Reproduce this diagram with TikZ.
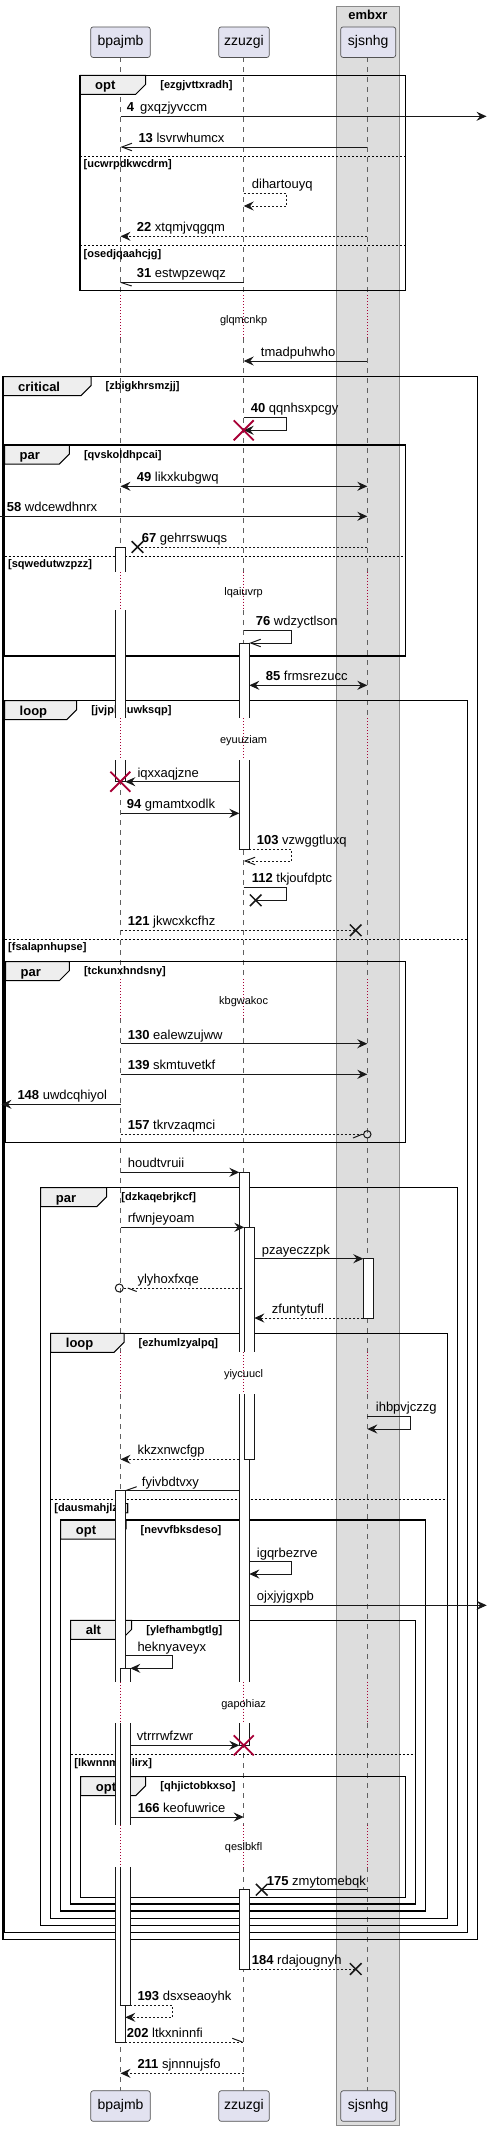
\documentclass[tikz,border=0pt]{standalone}
\usepackage{fontspec}
\setmainfont{Liberation Sans}
\usetikzlibrary{arrows.meta}
\definecolor{ln}{HTML}{181818}
\definecolor{pbox}{HTML}{E2E2F0}
\definecolor{grpbox}{HTML}{DDDDDD}
\definecolor{tabc}{HTML}{EEEEEE}
\definecolor{dlr}{HTML}{A80036}
\definecolor{lifec}{HTML}{606060}
\definecolor{boxedge}{HTML}{8A8A8A}
\newcommand\Grp[8]{%
  \filldraw[tabs] (#2,#4) -- (#6,#4) -- (#6,#4+9) -- (#6-10,#4+19) -- (#2,#4+19) -- cycle;
  \draw[frm] (#2,#4) rectangle (#3,#5);
  \node[kw] (#1k) at (#2+15,#4+14.3) {#7};
  \node[cnd] (#1c) at (#6+14.5,#4+13) {#8};}
\newcommand\GrpSep[5]{%
  \draw[sepl] (#2,#4) -- (#3,#4);
  \node[cnd] (#1) at (#2+3.5,#4+11.7) {#5};}
\newcommand\ActSeg[5]{%
  \fill[white] (#1,#2) rectangle (#1+10,#3);
  \draw[actl] (#1,#2) -- (#1,#3) (#1+10,#2) -- (#1+10,#3);
  \ifnum#4=1 \draw[actl] (#1-0.5,#2) -- (#1+10.5,#2);\fi
  \ifnum#5=1 \draw[actl] (#1-0.5,#3) -- (#1+10.5,#3);\fi}
\newcommand\HMsg[5]{%
  \coordinate (#1a) at (#2,#4); \coordinate (#1b) at (#3,#4);
  \draw[msg,#5] (#1a) -- (#1b);}
\newcommand\SelfMsg[7]{%
  \coordinate (#1a) at (#2,#4); \coordinate (#1b) at (#3,#4);
  \coordinate (#1c) at (#3,#5); \coordinate (#1d) at (#6,#5);
  \draw[msg,#7] (#1a) -- (#1b) -- (#1c) -- (#1d);}
\newcommand\MLab[4]{\node[lbl] (#1) at (#2,#3-4.7) {#4};}
\newcommand\LostX[2]{\draw[bx] (#1-5.8,#2-5.8) -- (#1+5.8,#2+5.8) (#1-5.8,#2+5.8) -- (#1+5.8,#2-5.8);}
\newcommand\KillX[2]{\draw[rx] (#1-10,#2-10) -- (#1+10,#2+10) (#1-10,#2+10) -- (#1+10,#2-10);}
\begin{document}
\begin{tikzpicture}[x=1pt,y=-1pt,
  msg/.style={draw=ln, line width=1pt},
  dsh/.style={dash pattern=on 2pt off 2pt},
  tipf/.style={arrows={-Stealth[length=10pt,width=9pt,inset=3.5pt]}},
  tipo/.style={arrows={-Straight Barb[length=10pt,width=7.5pt]}},
  tipb/.style={arrows={Stealth[length=10pt,width=9pt,inset=3.5pt]-Stealth[length=10pt,width=9pt,inset=3.5pt]}},
  lbl/.style={font=\fontsize{13}{15}\selectfont, inner sep=0pt, anchor=base west, text=black},
  dly/.style={font=\fontsize{11}{13}\selectfont, inner sep=0pt, anchor=base},
  kw/.style={font=\fontsize{13}{15}\selectfont\bfseries, inner sep=0pt, anchor=base west},
  cnd/.style={font=\fontsize{11}{13}\selectfont\bfseries, inner sep=0pt, anchor=base west},
  frm/.style={draw=black, line width=1.5pt},
  sepl/.style={draw=black, line width=0.8pt, dash pattern=on 2pt off 2pt},
  tabs/.style={fill=tabc, draw=black, line width=1pt},
  life/.style={draw=lifec, line width=0.8pt, dash pattern=on 5pt off 5pt},
  dlyl/.style={draw=dlr, line width=0.9pt, dash pattern=on 1pt off 2pt},
  actl/.style={draw=ln, line width=1pt},
  rx/.style={draw=dlr, line width=1.8pt},
  bx/.style={draw=ln, line width=1.5pt},
  part/.style={draw=ln!75, fill=pbox, rounded corners=2.5pt, line width=0.7pt, inner sep=0pt,
    font=\fontsize{14}{16}\selectfont, text height=10.2pt, text depth=2.9pt, minimum height=30.6pt},
]
\useasboundingbox (0,0) rectangle (487,2131);
% group box
\draw[fill=grpbox, draw=boxedge, line width=1pt] (336.3,6) rectangle (399.3,2125.7);
\node[kw, anchor=base] (embxr) at (367.8,19) {embxr};
% lifelines
\foreach \px in {120.5,243.7,367.3} {
  \foreach \ya/\yb in {57.3/295, 338.3/571.7, 610/718.3, 760/979, 1018.3/1352, 1394/1681.7, 1723.3/1825, 1867.3/2090.7}
    {\draw[life] (\px,\ya) -- (\px,\yb);}
  \foreach \ya/\yb in {295/338.3, 571.7/610, 718.3/760, 979/1018.3, 1352/1394, 1681.7/1723.3, 1825/1867.3}
    {\draw[dlyl] (\px,\ya) -- (\px,\yb);}
}
% participants
\node[part, minimum width=59.6pt] (pA) at (120.5,42.2) {bpajmb};
\node[part, minimum width=50.6pt] (pB) at (244,42.2) {zzuzgi};
\node[part, minimum width=55pt] (pC) at (368.2,42.2) {sjsnhg};
\node[part, minimum width=59.6pt] (qA) at (120.5,2106) {bpajmb};
\node[part, minimum width=50.6pt] (qB) at (244,2106) {zzuzgi};
\node[part, minimum width=55pt] (qC) at (368.2,2106) {sjsnhg};
% frames
\Grp{fA}{80}{405.7}{75.3}{290.7}{145.7}{opt}{[ezgjvttxradh]}
\GrpSep{sA1}{80}{405.7}{156}{[ucwrpdkwcdrm]}
\GrpSep{sA2}{80}{405.7}{245.3}{[osedjqaahcjg]}
\Grp{fB}{3}{477.7}{376.7}{1939.3}{91}{critical}{[zbigkhrsmzjj]}
\Grp{fC}{4.5}{405.7}{445}{656}{69.3}{par}{[qvskoldhpcai]}
\GrpSep{sC1}{4.5}{405.7}{556}{[sqwedutwzpzz]}
\Grp{fD}{4.5}{467.7}{700.7}{1932.3}{76.7}{loop}{[jvjphcuwksqp]}
\GrpSep{sD1}{4.5}{467.7}{939}{[fsalapnhupse]}
\Grp{fE}{5.5}{405.7}{961.7}{1142.3}{69.3}{par}{[tckunxhndsny]}
\Grp{fF}{40.7}{457.3}{1187.7}{1925.3}{106.7}{par}{[dzkaqebrjkcf]}
\Grp{fG}{50.7}{447.3}{1333.3}{1918.3}{124}{loop}{[ezhumlzyalpq]}
\GrpSep{sG1}{50.7}{447.3}{1499.7}{[dausmahjlztf]}
\Grp{fH}{60.7}{425.7}{1520}{1911}{126}{opt}{[nevvfbksdeso]}
\Grp{fI}{70.7}{415.7}{1620.3}{1904}{131.7}{alt}{[ylefhambgtlg]}
\GrpSep{sI1}{70.7}{415.7}{1754.3}{[lkwnnmcolirx]}
\Grp{fJ}{80.7}{405.7}{1776.7}{1897.3}{145.7}{opt}{[qhjictobkxso]}
% activations
\ActSeg{115.3}{547}{571.7}{1}{0}
\ActSeg{115.3}{610}{718.3}{0}{0}
\ActSeg{115.3}{760}{781.7}{0}{1}
\ActSeg{239.3}{643}{718.3}{1}{0}
\ActSeg{239.3}{760}{849.3}{0}{1}
\ActSeg{239.3}{1172.3}{1352}{1}{0}
\ActSeg{239.3}{1394}{1681.7}{0}{0}
\ActSeg{239.3}{1723.3}{1745.3}{0}{1}
\ActSeg{244.3}{1227.3}{1352}{1}{0}
\ActSeg{244.3}{1394}{1459.3}{0}{1}
\ActSeg{363.3}{1258.7}{1318}{1}{1}
\ActSeg{115.3}{1490.7}{1681.7}{1}{0}
\ActSeg{115.3}{1723.3}{1825}{0}{0}
\ActSeg{115.3}{1867.3}{2042}{0}{1}
\ActSeg{120.3}{1668.3}{1681.7}{1}{0}
\ActSeg{120.3}{1723.3}{1825}{0}{0}
\ActSeg{120.3}{1867.3}{2005}{0}{1}
\ActSeg{239.3}{1889.7}{1969}{1}{1}
% messages
\HMsg{m1}{120.5}{486.5}{116.3}{tipf}
\MLab{t1}{126.7}{116.3}{\textbf{4}\hspace{6pt}gxqzjyvccm}
\HMsg{m2}{367.3}{120.5}{147}{tipo}
\MLab{t2}{138.3}{147}{\textbf{13} lsvrwhumcx}
\SelfMsg{m3}{243.7}{286.3}{193.3}{206}{243.7}{dsh,tipf}
\MLab{t3}{251.7}{193.3}{dihartouyq}
\HMsg{m4}{367.3}{120.5}{236.3}{dsh,tipf}
\MLab{t4}{136.7}{236.3}{\textbf{22} xtqmjvqgqm}
\HMsg{m5}{243.7}{120.5}{282.3}{}
\coordinate (m5c) at (131.7,286); \draw[msg] (m5b) -- (m5c);
\MLab{t5}{136.7}{282.3}{\textbf{31} estwpzewqz}
\HMsg{m6}{367.3}{243.7}{361}{tipf}
\MLab{t6}{260.7}{361}{tmadpuhwho}
\SelfMsg{m7}{243.7}{286.3}{417.3}{430.3}{243.7}{tipf}
\KillX{243.7}{430.3}
\MLab{t7}{250.7}{417.3}{\textbf{40} qqnhsxpcgy}
\HMsg{m8}{120.5}{367.3}{486.3}{tipb}
\MLab{t8}{136.7}{486.3}{\textbf{49} likxkubgwq}
\HMsg{m9}{0}{367.3}{516.3}{tipf}
\MLab{t9}{6.7}{516.3}{\textbf{58} wdcewdhnrx}
\HMsg{m10}{367.3}{137.5}{547}{dsh}
\LostX{137.5}{547}
\MLab{t10}{141.7}{547}{\textbf{67} gehrrswuqs}
\SelfMsg{m11}{243.7}{291.7}{630.3}{643}{249.3}{tipo}
\MLab{t11}{255.7}{630.3}{\textbf{76} wdzyctlson}
\HMsg{m12}{249.3}{367.3}{685.3}{tipb}
\MLab{t12}{265.7}{685.3}{\textbf{85} frmsrezucc}
\HMsg{m13}{239.3}{125.3}{781.7}{tipf}
\KillX{120.3}{781.7}
\MLab{t13}{137.3}{781.7}{iqxxaqjzne}
\HMsg{m14}{120.5}{239.3}{813.3}{tipf}
\MLab{t14}{126.7}{813.3}{\textbf{94} gmamtxodlk}
\SelfMsg{m15}{249.3}{291.7}{849.3}{861}{243.7}{dsh,tipo}
\MLab{t15}{256.7}{849.3}{\textbf{103} vzwggtluxq}
\SelfMsg{m16}{243.7}{286.3}{887.3}{900.3}{255.7}{}
\LostX{255.7}{900.3}
\MLab{t16}{251.7}{887.3}{\textbf{112} tkjoufdptc}
\HMsg{m17}{120.5}{355.7}{930.3}{dsh}
\LostX{355.7}{930.3}
\MLab{t17}{127.7}{930.3}{\textbf{121} jkwcxkcfhz}
\HMsg{m18}{120.5}{367.3}{1043.7}{tipf}
\MLab{t18}{127.7}{1043.7}{\textbf{130} ealewzujww}
\HMsg{m19}{120.5}{367.3}{1074.3}{tipf}
\MLab{t19}{127.7}{1074.3}{\textbf{139} skmtuvetkf}
\HMsg{m20}{120.5}{1.5}{1104.3}{tipf}
\MLab{t20}{17.3}{1104.3}{\textbf{148} uwdcqhiyol}
\HMsg{m21}{120.5}{363.6}{1134.3}{dsh}
\draw[msg] (367.3,1134.3) circle[radius=3.7pt];
\coordinate (m21c) at (353,1138); \coordinate (m21d) at (362,1134.3); \draw[msg] (m21d) -- (m21c);
\MLab{t21}{127.7}{1134.3}{\textbf{157} tkrvzaqmci}
\HMsg{m22}{120.5}{239.3}{1172.3}{tipf}
\MLab{t22}{127.7}{1172.3}{houdtvruii}
\HMsg{m23}{120.5}{244.3}{1227.3}{tipf}
\MLab{t23}{127.7}{1227.3}{rfwnjeyoam}
\HMsg{m24}{254.3}{363.3}{1258.7}{tipf}
\MLab{t24}{261.7}{1258.7}{pzayeczzpk}
\HMsg{m25}{242.3}{123.3}{1288}{dsh}
\draw[msg] (119.3,1288) circle[radius=4pt];
\coordinate (m25c) at (127.7,1288); \coordinate (m25d) at (136.7,1291.5); \draw[msg] (m25c) -- (m25d);
\MLab{t25}{137.3}{1288}{ylyhoxfxqe}
\HMsg{m26}{363.3}{254.3}{1318}{dsh,tipf}
\MLab{t26}{271.7}{1318}{zfuntytufl}
\SelfMsg{m27}{367.3}{410.7}{1416}{1429}{367.3}{tipf}
\MLab{t27}{375.7}{1416}{ihbpvjczzg}
\HMsg{m28}{239.3}{120.5}{1459.3}{dsh,tipf}
\MLab{t28}{137.3}{1459.3}{kkzxnwcfgp}
\HMsg{m29}{239.3}{125.3}{1490.7}{}
\coordinate (m29c) at (136.7,1486.7); \draw[msg] (m29b) -- (m29c);
\MLab{t29}{141.7}{1490.7}{fyivbdtvxy}
\SelfMsg{m30}{249.3}{291.7}{1561.7}{1574}{249.3}{tipf}
\MLab{t30}{256.7}{1561.7}{igqrbezrve}
\HMsg{m31}{249.3}{486.7}{1605.3}{tipf}
\MLab{t31}{256.7}{1605.3}{ojxjyjgxpb}
\SelfMsg{m32}{125.3}{172.3}{1655.7}{1668.3}{130.3}{tipf}
\MLab{t32}{137.3}{1655.7}{heknyaveyx}
\HMsg{m33}{130.3}{239.3}{1745.3}{tipf}
\KillX{243.7}{1745.3}
\MLab{t33}{136.7}{1745.3}{vtrrrwfzwr}
\HMsg{m34}{130.3}{243.7}{1817}{tipf}
\MLab{t34}{137.7}{1817}{\textbf{166} keofuwrice}
\HMsg{m35}{367.3}{261.7}{1889.7}{}
\LostX{261.7}{1889.7}
\MLab{t35}{266.7}{1889.7}{\textbf{175} zmytomebqk}
\HMsg{m36}{249.3}{355.7}{1969}{dsh}
\LostX{355.7}{1969}
\MLab{t36}{251.7}{1969}{\textbf{184} rdajougnyh}
\SelfMsg{m37}{130.3}{172.3}{2005}{2017.3}{125.3}{dsh,tipf}
\MLab{t37}{137.3}{2005}{\textbf{193} dsxseaoyhk}
\HMsg{m38}{125.3}{243.7}{2042}{dsh}
\coordinate (m38c) at (242.3,2042); \coordinate (m38d) at (232.3,2038.3); \draw[msg] (m38c) -- (m38d);
\MLab{t38}{126.7}{2042}{\textbf{202} ltkxninnfi}
\HMsg{m39}{243.7}{120.5}{2073.3}{dsh,tipf}
\MLab{t39}{137.3}{2073.3}{\textbf{211} sjnnnujsfo}
% delays
\node[dly] (d1) at (243.6,323.3) {glqmcnkp};
\node[dly] (d2) at (243.6,595.6) {lqaiuvrp};
\node[dly] (d3) at (243.6,743.6) {eyuuziam};
\node[dly] (d4) at (243.6,1004.3) {kbgwakoc};
\node[dly] (d5) at (243.6,1377.6) {yiycuucl};
\node[dly] (d6) at (243.6,1707.3) {gapohiaz};
\node[dly] (d7) at (243.6,1850) {qeslbkfl};
\end{tikzpicture}
\end{document}
